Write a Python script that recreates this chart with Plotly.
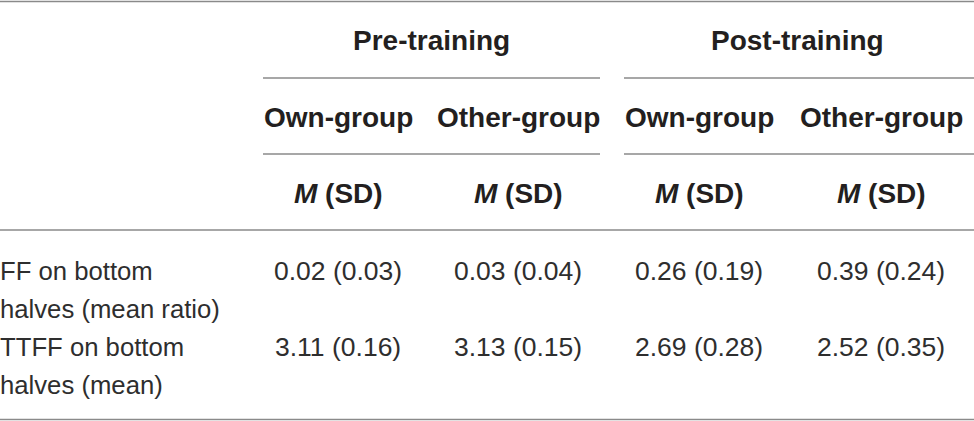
import plotly.graph_objects as go

# ---- data ----
phases = ["Pre-training", "Post-training"]
groups = ["Own-group", "Other-group", "Own-group", "Other-group"]
stat_label = "<i>M</i> (SD)"
row_labels = ["FF on bottom<br>halves (mean ratio)", "TTFF on bottom<br>halves (mean)"]
means = [[0.02, 0.03, 0.26, 0.39],
         [3.11, 3.13, 2.69, 2.52]]
sds = [[0.03, 0.04, 0.19, 0.24],
       [0.16, 0.15, 0.28, 0.35]]

# ---- layout geometry ----
W, H = 974, 421
col_x = [338, 518, 699, 881]
phase_spans = [(263, 600), (624, 974)]
phase_x = [431, 797]
y_phase, y_group, y_stat = 40, 117, 193
row_y = [271, 347]
line_h = 38

TXT = "#231f20"
TXT_L = "#2e2e2e"
LINE = "#8a8a8a"
FONT = "Liberation Sans, Arial, Helvetica, sans-serif"
HS = 28
DS = 26.5
LS = 25.7

fig = go.Figure()
ann = []
shapes = []

def hline(x0, x1, y, w=1.5):
    shapes.append(dict(type="line", xref="x", yref="y", x0=x0, x1=x1, y0=y, y1=y,
                       line=dict(color=LINE, width=w)))

hline(0, W, 1.5)
hline(0, W, 230)
hline(0, W, 419.5)
for (a, b) in phase_spans:
    hline(a, b, 78)
    hline(a, b, 154)

for x, name in zip(phase_x, phases):
    ann.append(dict(x=x, y=y_phase, text=f"<b>{name}</b>",
                    showarrow=False, xanchor="center", yanchor="middle",
                    font=dict(size=HS, color=TXT, family=FONT)))
for x, g in zip(col_x, groups):
    ann.append(dict(x=x, y=y_group, text=f"<b>{g}</b>", showarrow=False,
                    xanchor="center", yanchor="middle",
                    font=dict(size=HS, color=TXT, family=FONT)))
    ann.append(dict(x=x, y=y_stat, text=f"<b>{stat_label}</b>", showarrow=False,
                    xanchor="center", yanchor="middle",
                    font=dict(size=HS, color=TXT, family=FONT)))

for r, lab in enumerate(row_labels):
    lines = lab.split("<br>")
    for k, t in enumerate(lines):
        ann.append(dict(x=0, y=row_y[r] + k * line_h, text=t, showarrow=False,
                        xanchor="left", yanchor="middle", xshift=-2,
                        font=dict(size=LS, color=TXT_L, family=FONT)))
    for c, x in enumerate(col_x):
        ann.append(dict(x=x, y=row_y[r], text=f"{means[r][c]:.2f} ({sds[r][c]:.2f})",
                        showarrow=False, xanchor="center", yanchor="middle",
                        font=dict(size=DS, color=TXT_L, family=FONT)))

fig.update_layout(
    width=W, height=H,
    margin=dict(l=0, r=0, t=0, b=0),
    paper_bgcolor="white", plot_bgcolor="white",
    xaxis=dict(range=[0, W], visible=False, fixedrange=True),
    yaxis=dict(range=[H, 0], visible=False, fixedrange=True),
    annotations=ann, shapes=shapes, showlegend=False,
)
fig.write_html("out.html", config={"displayModeBar": False},
               post_script="document.body.style.margin='0';document.body.style.overflow='hidden';")
